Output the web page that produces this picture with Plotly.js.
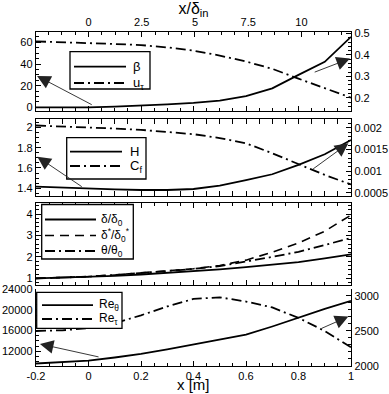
<!DOCTYPE html>
<html>
<head>
<meta charset="utf-8">
<script src="https://cdn.plot.ly/plotly-3.0.1.min.js"></script>
<style>html,body{margin:0;padding:0;background:#fff;}#chart{width:389px;height:394px;}</style>
</head>
<body>
<div id="chart"></div>
<script>
// ---- data ----
const xm = [-0.2, -0.1, 0, 0.1, 0.2, 0.3, 0.4, 0.5, 0.6, 0.7, 0.8, 0.9, 1.0];
const beta = [0, 0, 0, 0.8, 1.6, 2.8, 4.1, 6.3, 10.5, 17.5, 30, 42, 65];
const uTau = [0.463, 0.46, 0.455, 0.451, 0.446, 0.435, 0.42, 0.397, 0.369, 0.335, 0.289, 0.246, 0.2];
const shapeH = [1.416, 1.405, 1.40, 1.39, 1.383, 1.383, 1.393, 1.426, 1.48, 1.538, 1.63, 1.735, 1.875];
const cf = [0.00205, 0.00203, 0.002, 0.00198, 0.00195, 0.0019, 0.00185, 0.00176, 0.00164, 0.00141, 0.00116, 0.00091, 0.00069];
const deltaRatio = [1.0, 1.03, 1.06, 1.12, 1.18, 1.25, 1.33, 1.42, 1.52, 1.63, 1.76, 1.93, 2.12];
const deltaStarRatio = [1.0, 1.04, 1.08, 1.16, 1.25, 1.35, 1.45, 1.6, 1.85, 2.22, 2.65, 3.2, 3.95];
const thetaRatio = [1.0, 1.04, 1.08, 1.16, 1.25, 1.34, 1.44, 1.57, 1.78, 2.0, 2.24, 2.55, 2.88];
const reTheta = [9635, 9900, 10210, 10800, 11500, 12350, 13290, 14190, 15210, 16800, 18540, 20200, 21750];
const reTau = [2500, 2510, 2540, 2610, 2724, 2850, 2958, 2981, 2920, 2836, 2687, 2500, 2266];

const xTickVals = [-0.2, 0, 0.2, 0.4, 0.6, 0.8, 1];
const xTickText = ['-0.2', '0', '0.2', '0.4', '0.6', '0.8', '1'];
const topTickVals = [0, 2.5, 5, 7.5, 10];
const topTickText = ['0', '2.5', '5', '7.5', '10'];
const names = ['β', 'u<sub>τ</sub>', 'H', 'C<sub>f</sub>', 'δ/δ<sub>0</sub>', 'δ<sup>*</sup>/δ<sub>0</sub><sup>*</sup>', 'θ/θ<sub>0</sub>', 'Re<sub>θ</sub>', 'Re<sub>τ</sub>'];

// ---- styles ----
const FONT = 'Liberation Sans, Arial, sans-serif';
const solid = {color: 'black', width: 1.8};
const dashdot = {color: 'black', width: 1.8, dash: '10px,4px,2px,4px'};
const dashed = {color: 'black', width: 1.6, dash: '9px,6px'};

function tr(y, xa, ya, i, line) {
  return {x: xm, y: y, xaxis: xa, yaxis: ya, name: names[i], mode: 'lines', line: line, showlegend: false};
}
const traces = [
  tr(beta, 'x4', 'y4', 0, solid),
  tr(uTau, 'x4', 'y7', 1, dashdot),
  tr(shapeH, 'x3', 'y3', 2, solid),
  tr(cf, 'x3', 'y6', 3, dashdot),
  tr(deltaRatio, 'x2', 'y2', 4, solid),
  tr(deltaStarRatio, 'x2', 'y2', 5, dashed),
  tr(thetaRatio, 'x2', 'y2', 6, dashdot),
  tr(reTheta, 'x', 'y', 7, solid),
  tr(reTau, 'x', 'y5', 8, dashdot),
  {x: [], y: [], xaxis: 'x5', yaxis: 'y4', showlegend: false, mode: 'lines'}
];

function ax(extra) {
  return Object.assign({
    showline: true, linecolor: 'black', linewidth: 1.2,
    ticks: 'inside', ticklen: 5, tickwidth: 1, tickcolor: 'black',
    showgrid: false, zeroline: false, tickformat: 'd',
    tickfont: {family: FONT, size: 11, color: 'black'}
  }, extra);
}
function xax(anchor, extra) {
  return ax(Object.assign({
    anchor: anchor, range: [-0.2, 1], tickvals: xTickVals, ticktext: xTickText,
    minor: {ticks: 'inside', ticklen: 3, dtick: 0.05, tick0: 0, tickcolor: 'black', showgrid: false}
  }, extra));
}

// ---- framed legends (drawn as paper-positioned decorations) ----
const ML = 36, MT = 32, PW = 315, PH = 334;
const px2x = p => (p - ML) / PW;
const py2y = p => (MT + PH - p) / PH;
const legendBoxes = [
  {box: [70, 51.7, 150, 89], items: [[0, solid, 66.7], [1, dashdot, 83]], x0: 74, x1: 126, tx: 131, fs: 13},
  {box: [66.7, 137.7, 146, 179], items: [[2, solid, 151.7], [3, dashdot, 166]], x0: 70, x1: 122, tx: 128, fs: 13},
  {box: [41.7, 204.5, 133.3, 259], items: [[4, solid, 219.5], [5, dashed, 235.5], [6, dashdot, 251]], x0: 45, x1: 96, tx: 99, fs: 12},
  {box: [36.7, 292.3, 122, 328.3], items: [[7, solid, 305.2], [8, dashdot, 319]], x0: 42, x1: 93, tx: 97, fs: 12}
];
const shapes = [];
const annotations = [];
legendBoxes.forEach(L => {
  shapes.push({type: 'rect', xref: 'paper', yref: 'paper', layer: 'above',
    x0: px2x(L.box[0]), x1: px2x(L.box[2]), y0: py2y(L.box[3]), y1: py2y(L.box[1]),
    fillcolor: 'white', line: {color: 'black', width: 1.3}});
  L.items.forEach(it => {
    shapes.push({type: 'line', xref: 'paper', yref: 'paper', layer: 'above',
      x0: px2x(L.x0), x1: px2x(L.x1), y0: py2y(it[2]), y1: py2y(it[2]),
      line: Object.assign({}, it[1])});
    annotations.push({xref: 'paper', yref: 'paper', x: px2x(L.tx), y: py2y(it[2]), xanchor: 'left', yanchor: 'middle',
      showarrow: false, text: names[it[0]], font: {family: FONT, size: L.fs, color: 'black'}});
  });
});

const arrow = {showarrow: true, arrowhead: 2, arrowsize: 3, arrowwidth: 0.9, arrowcolor: '#222', text: ''};
annotations.push(
  Object.assign({}, arrow, {xref: 'x4', yref: 'y4', axref: 'x4', ayref: 'y4', ax: 0.018, ay: 1.8, x: -0.196, y: 29}),
  Object.assign({}, arrow, {xref: 'x4', yref: 'y4', axref: 'x4', ayref: 'y4', ax: 0.856, ay: 32, x: 0.996, y: 45}),
  Object.assign({}, arrow, {xref: 'x3', yref: 'y3', axref: 'x3', ayref: 'y3', ax: -0.02, ay: 1.406, x: -0.195, y: 1.711}),
  Object.assign({}, arrow, {xref: 'x3', yref: 'y3', axref: 'x3', ayref: 'y3', ax: 0.85, ay: 1.58, x: 0.99, y: 1.843}),
  Object.assign({}, arrow, {xref: 'x', yref: 'y', axref: 'x', ayref: 'y', ax: 0.044, ay: 10850, x: -0.185, y: 13420}),
  Object.assign({}, arrow, {xref: 'x', yref: 'y', axref: 'x', ayref: 'y', ax: 0.882, ay: 16300, x: 0.99, y: 18720})
);
// bottom axis title
annotations.push({xref: 'paper', yref: 'paper', x: px2x(193), y: py2y(393.5), xanchor: 'center', yanchor: 'bottom',
  showarrow: false, borderpad: 0, text: 'x [m]', font: {family: FONT, size: 15, color: 'black'}});

const layout = {
  width: 389, height: 394,
  margin: {l: ML, r: 38, t: MT, b: 28},
  paper_bgcolor: 'white', plot_bgcolor: 'white',
  font: {family: FONT, size: 11, color: 'black'},
  showlegend: false,
  xaxis: xax('y', {}),
  xaxis2: xax('y2', {matches: 'x', showticklabels: false, mirror: 'allticks'}),
  xaxis3: xax('y3', {matches: 'x', showticklabels: false, mirror: 'allticks'}),
  xaxis4: xax('y4', {matches: 'x', showticklabels: false, mirror: true}),
  xaxis5: ax({overlaying: 'x4', anchor: 'y4', side: 'top', range: [-2.466, 12.33],
    tickvals: topTickVals, ticktext: topTickText,
    minor: {ticks: 'inside', ticklen: 3, dtick: 0.625, tick0: 0, tickcolor: 'black', showgrid: false},
    title: {text: 'x/δ<sub>in</sub>', font: {family: FONT, size: 16}, standoff: 4}}),
  // panel 4 (bottom)
  yaxis: ax({domain: [0, 0.2296], anchor: 'x', range: [9150, 24000], tickvals: [12000, 16000, 20000, 24000],
    ticktext: ['12000', '16000', '20000', '24000'],
    minor: {ticks: 'inside', ticklen: 3, dtick: 1000, tickcolor: 'black', showgrid: false}}),
  yaxis5: ax({overlaying: 'y', anchor: 'x', side: 'right', range: [2000, 3095], tickvals: [2000, 2500, 3000],
    minor: {ticks: 'inside', ticklen: 3, dtick: 100, tickcolor: 'black', showgrid: false}}),
  // panel 3
  yaxis2: ax({domain: [0.2425, 0.487], anchor: 'x2', range: [0.69, 4.5], tickvals: [1, 2, 3, 4], mirror: 'allticks',
    minor: {ticks: 'inside', ticklen: 3, dtick: 0.2, tickcolor: 'black', showgrid: false}}),
  // panel 2
  yaxis3: ax({domain: [0.509, 0.7395], anchor: 'x3', range: [1.324, 2.082], tickvals: [1.4, 1.6, 1.8, 2],
    ticktext: ['1.4', '1.6', '1.8', '2'],
    minor: {ticks: 'inside', ticklen: 3, dtick: 0.05, tickcolor: 'black', showgrid: false}}),
  yaxis6: ax({overlaying: 'y3', anchor: 'x3', side: 'right', range: [0.000424, 0.0022],
    tickvals: [0.0005, 0.001, 0.0015, 0.002], ticktext: ['0.0005', '0.001', '0.0015', '0.002'],
    minor: {ticks: 'inside', ticklen: 3, dtick: 0.0001, tickcolor: 'black', showgrid: false}}),
  // panel 1 (top)
  yaxis4: ax({domain: [0.7635, 1], anchor: 'x4', range: [-3.3, 69.5], tickvals: [0, 20, 40, 60],
    minor: {ticks: 'inside', ticklen: 3, dtick: 5, tickcolor: 'black', showgrid: false}}),
  yaxis7: ax({overlaying: 'y4', anchor: 'x4', side: 'right', range: [0.138, 0.507], tickvals: [0.2, 0.3, 0.4, 0.5],
    ticktext: ['0.2', '0.3', '0.4', '0.5'],
    minor: {ticks: 'inside', ticklen: 3, dtick: 0.02, tickcolor: 'black', showgrid: false}}),
  shapes: shapes,
  annotations: annotations
};

Plotly.newPlot('chart', traces, layout, {displayModeBar: false, staticPlot: true});
</script>
</body>
</html>
